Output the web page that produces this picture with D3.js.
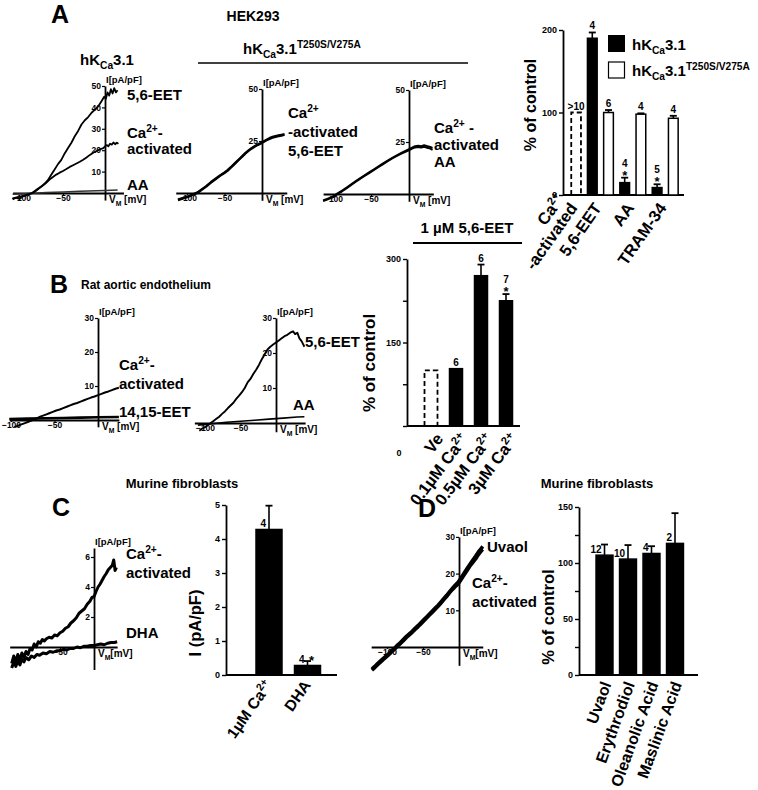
<!DOCTYPE html>
<html>
<head>
<meta charset="utf-8">
<script src="https://cdn.jsdelivr.net/npm/d3@7"></script>
<style>
body{margin:0;background:#fff}
svg text{font-family:"Liberation Sans",Arial,Helvetica,sans-serif;font-weight:bold;fill:#000}
</style>
</head>
<body>
<svg id="fig" width="758" height="790"></svg>
<script>
// ---- I-V traces, [mV, pA/pF] ----
// A, hKCa3.1 wild type
const a1Eet = [[-110,-3],[-106,-2.2],[-102,-2.8],[-98,-1.6],[-94,-1.2],[-90,-0.4],[-87,0],[-84,0.8],[-80,2],[-76,3],[-72,4.3],[-68,6],[-64,8.5],[-60,11],[-56,13.5],[-52,15.5],[-48,18.5],[-44,21],[-40,23.5],[-36,26.5],[-32,29],[-28,32],[-24,34],[-20,35.5],[-16,37.5],[-12,39],[-8,40.5],[-4,43],[-1,45],[1,44],[3,47],[5,45.5],[7,48.5],[9,46.5],[11,49],[13,47],[15,48]];
const a1Ca = [[-110,-2.5],[-105,-2],[-100,-1.6],[-95,-1],[-90,-0.5],[-86,0],[-82,1],[-78,2.3],[-74,3.5],[-70,4.8],[-66,6.3],[-62,7.5],[-58,8.6],[-54,9.5],[-50,10.3],[-46,11.2],[-42,12.2],[-38,13],[-34,13.8],[-30,14.6],[-26,15.5],[-22,16.6],[-18,17.8],[-14,18.8],[-10,19.6],[-6,20.4],[-2,21],[0,21.8],[2,22.4],[4,21.8],[6,23],[8,22.6],[10,23.6],[12,22.8],[14,23.5],[16,23]];
const a1AA = [[-110,-0.6],[-90,-0.2],[-70,0.2],[-50,0.5],[-30,0.8],[-10,1.1],[0,1.2],[15,1.4]];
// A, hKCa3.1 T250S/V275A
const a2Ca = [[-112,-3.5],[-105,-2.6],[-98,-1.8],[-92,-0.8],[-86,0],[-80,1.6],[-74,3.2],[-68,5],[-62,6.6],[-56,8.2],[-50,9.6],[-46,10.6],[-42,12],[-38,13.4],[-34,14.8],[-30,16.2],[-26,17.6],[-22,19],[-18,20.2],[-14,21.3],[-10,22.2],[-6,23],[-2,23.7],[2,24.5],[6,25.3],[10,26],[14,26.6],[18,27],[22,27.3],[26,27.6],[30,28]];
const a2Eet = [[-112,-3.2],[-105,-2.3],[-98,-1.5],[-92,-0.6],[-86,0.3],[-80,1.9],[-74,3.4],[-68,5.3],[-62,6.9],[-56,8.5],[-50,9.9],[-46,11],[-42,12.3],[-38,13.7],[-34,15.1],[-30,16.5],[-26,17.9],[-22,19.3],[-18,20.5],[-14,21.6],[-10,22.5],[-6,23.3],[-2,24],[2,24.8],[6,25.6],[10,26.4],[14,27],[18,27.4],[22,27.7],[26,28],[30,28.3]];
const a3Ca = [[-113,-3.4],[-106,-2.4],[-100,-1.5],[-94,0],[-88,1.3],[-82,2.8],[-76,4.4],[-70,5.9],[-64,7.4],[-58,8.8],[-52,10.2],[-46,11.6],[-40,13],[-34,14.4],[-28,15.8],[-22,17.1],[-16,18.3],[-10,19.4],[-4,20.4],[0,21],[4,21.8],[8,22.4],[12,22.6],[16,22.3],[20,22.7],[24,22.2],[28,21.8],[31,21.2]];
const a3AA = [[-113,-3.1],[-106,-2.1],[-100,-1.2],[-94,0.3],[-88,1.6],[-82,3.1],[-76,4.7],[-70,6.2],[-64,7.7],[-58,9.1],[-52,10.5],[-46,11.9],[-40,13.3],[-34,14.7],[-28,16.1],[-22,17.4],[-16,18.6],[-10,19.8],[-4,20.9],[0,21.6],[4,22.3],[8,23],[12,23.2],[16,23],[20,23.4],[24,23],[28,22.6],[31,22.2]];
// B, rat aortic endothelium
const b1Ca = [[-96,-2.1],[-92,-1.7],[-88,-1.3],[-84,-0.9],[-80,-0.5],[-76,-0.1],[-72,0.3],[-68,0.8],[-64,1.2],[-60,1.6],[-56,2],[-52,2.4],[-48,2.8],[-44,3.1],[-40,3.5],[-36,3.9],[-32,4.3],[-28,4.7],[-24,5],[-20,5.4],[-16,5.8],[-12,6.2],[-8,6.6],[-4,6.9],[0,7.3],[4,7.7],[8,8.1],[12,8.4],[16,8.8],[20,9.2],[24,9.5]];
const b1Eet = [[-102,0.3],[-80,0.4],[-60,0.5],[-40,0.6],[-20,0.7],[0,0.8],[24,0.9]];
const b2Eet = [[-108,-2.2],[-104,-1.6],[-100,-1.2],[-96,-0.6],[-92,0],[-88,0.6],[-84,1.2],[-80,1.8],[-76,2.6],[-72,3.3],[-68,4.2],[-64,5],[-60,5.8],[-56,6.9],[-52,7.8],[-48,8.8],[-44,10],[-40,11.6],[-36,12.6],[-32,14],[-28,15.2],[-24,16.6],[-20,18.2],[-16,19.6],[-12,21],[-8,21.8],[-4,22.4],[0,23],[4,23.6],[8,24.2],[12,24.8],[16,25.2],[20,25.8],[24,26.2],[27,25.4],[30,25.8],[33,24.2],[36,23.4],[38,22.6],[40,21.8]];
const b2AA = [[-110,-0.6],[-90,-0.2],[-70,0.2],[-50,0.5],[-30,0.8],[-10,1.1],[10,1.4],[30,1.7],[40,1.8]];
// C, murine fibroblasts
const cCa = [[-121,-1.1],[-118,-0.6],[-115,-1],[-112,-0.5],[-109,-0.9],[-106,-0.4],[-103,-0.7],[-100,-0.3],[-97,-0.5],[-94,-0.1],[-91,-0.2],[-88,0.2],[-85,0],[-82,0.35],[-79,0.25],[-76,0.5],[-73,0.4],[-70,0.55],[-66,0.65],[-62,0.6],[-58,0.8],[-54,0.75],[-50,0.95],[-46,1.05],[-42,1.25],[-38,1.35],[-34,1.6],[-30,1.75],[-26,1.95],[-22,2.25],[-18,2.4],[-14,2.55],[-10,2.85],[-6,3.05],[-3,3.3],[0,3.35],[3,3.7],[6,4],[9,4.2],[12,4.45],[15,4.7],[18,4.9],[21,5.15],[24,5.3],[27,5.45],[29,5.8],[31,5.1],[33,5.3]];
const cDha = [[-121,-1.4],[-118,-1],[-115,-1.3],[-112,-0.9],[-109,-1.2],[-106,-0.8],[-103,-1],[-100,-0.7],[-96,-0.85],[-92,-0.6],[-88,-0.7],[-84,-0.5],[-80,-0.55],[-75,-0.4],[-70,-0.45],[-65,-0.3],[-60,-0.35],[-55,-0.25],[-50,-0.25],[-45,-0.15],[-40,-0.2],[-35,-0.1],[-30,-0.1],[-25,0],[-20,-0.05],[-15,0.05],[-10,0.05],[-5,0.1],[0,0.1],[5,0.15],[10,0.2],[15,0.15],[20,0.25],[25,0.3],[30,0.3],[34,0.35]];
// D, murine fibroblasts
const dCa = [[-121,-6.3],[-117,-5.6],[-113,-4.8],[-109,-4.1],[-105,-3.4],[-101,-2.7],[-97,-2],[-93,-1.2],[-89,-0.5],[-85,0.3],[-81,1],[-77,1.8],[-73,2.6],[-69,3.3],[-65,4],[-61,4.8],[-57,5.5],[-53,6.3],[-49,7.1],[-45,7.9],[-41,8.7],[-37,9.5],[-33,10.3],[-29,11.1],[-25,12],[-21,12.9],[-17,13.8],[-13,14.8],[-9,15.7],[-5,16.5],[-1,17.2],[3,18.4],[7,19.6],[11,20.8],[15,22],[19,23],[23,24],[27,25.2],[31,26.2],[33,26.6]];
const dUvaol = [[-121,-6],[-117,-5.3],[-113,-4.5],[-109,-3.8],[-105,-3.1],[-101,-2.4],[-97,-1.7],[-93,-0.9],[-89,-0.2],[-85,0.6],[-81,1.3],[-77,2.1],[-73,2.9],[-69,3.6],[-65,4.3],[-61,5.1],[-57,5.8],[-53,6.6],[-49,7.4],[-45,8.2],[-41,9],[-37,9.8],[-33,10.6],[-29,11.4],[-25,12.3],[-21,13.2],[-17,14.1],[-13,15.1],[-9,16],[-5,16.9],[-1,17.7],[3,18.9],[7,20.1],[11,21.3],[15,22.5],[19,23.6],[23,24.7],[27,25.9],[31,26.9],[33,27.4]];

// ---- bar charts ----
const aCats = ["Ca^{2+}|-activated", "5,6-EET", "AA", "TRAM-34"];
const aWt = [100, 190, 15, 9];
const aWtSem = [0, 7, 6, 4];
const aWtN = [">10", "4", "4", "5"];
const aWtStar = [false, false, true, true];
const aMut = [null, 100, 98, 93];
const aMutSem = [null, 3, 1, 3];
const aMutN = [null, "6", "4", "4"];
const aTicks = [0, 100, 200];

const bCats = ["Ve", "0.1µM Ca^{2+}", "0.5µM Ca^{2+}", "3µM Ca^{2+}"];
const bVals = [100, 103, 270, 225];
const bSem = [0, 0, 20, 12];
const bN = ["", "6", "6", "7"];
const bStar = [false, false, false, true];
const bTicks = [0, 75, 150, 225, 300];
const bTickLabels = [150, 300];

const cCats = ["1µM Ca^{2+}", "DHA"];
const cVals = [4.28, 0.28];
const cSem = [0.7, 0.13];
const cN = ["4", "4"];
const cStar = [false, true];
const cTicks = [0, 1, 2, 3, 4, 5];

const dCats = ["Uvaol", "Erythrodiol", "Oleanolic Acid", "Maslinic Acid"];
const dVals = [107, 103.5, 108.5, 117.5];
const dSem = [9.5, 12.5, 6.5, 27];
const dN = ["12", "10", "4", "2"];
const dTicks = [0, 25, 50, 75, 100, 125, 150];
const dTickLabels = [0, 50, 100, 150];

const svg = d3.select("#fig");

// "Ca^{2+}" / "K_{Ca}" markup -> tspans
function parts(s) {
  const out = [], re = /([_^])\{([^}]*)\}/g;
  let last = 0, m;
  while ((m = re.exec(s))) {
    if (m.index > last) out.push([s.slice(last, m.index), ""]);
    out.push([m[2], m[1] == "^" ? "sup" : "sub"]);
    last = re.lastIndex;
  }
  if (last < s.length) out.push([s.slice(last), ""]);
  return out;
}
function rich(t, s, size) {
  let shift = 0;
  parts(s).forEach(([str, k]) => {
    const target = k == "sub" ? size * 0.25 : k == "sup" ? -size * 0.38 : 0;
    t.append("tspan").attr("dy", target - shift).attr("font-size", k ? size * 0.68 : size).text(str);
    shift = target;
  });
  return t;
}
function label(x, y, s, size, anchor) {
  const t = svg.append("text").attr("x", x).attr("y", y).attr("font-size", size).attr("text-anchor", anchor || "start");
  return rich(t, s, size);
}

function ivPlot(p) {
  const x = d3.scaleLinear().domain(p.v).range([p.ox + p.kx * p.v[0], p.ox + p.kx * p.v[1]]);
  const y = d3.scaleLinear().domain(p.i).range([p.oy - p.ky * p.i[0], p.oy - p.ky * p.i[1]]);
  const g = svg.append("g");
  const xa = g.append("g").attr("transform", `translate(0,${y(0)})`)
    .call(d3.axisBottom(x).tickValues(p.vTicks).tickSize(2).tickSizeOuter(0).tickPadding(0));
  const ya = g.append("g").attr("transform", `translate(${x(0)},0)`)
    .call(d3.axisLeft(y).tickValues(p.iTicks).tickSize(3).tickSizeOuter(0).tickPadding(1));
  [xa, ya].forEach(a => {
    a.attr("font-family", null).attr("font-size", 8.5);
    a.select(".domain").attr("stroke-width", 1.8);
    a.selectAll(".tick line").attr("stroke-width", 1.2);
  });
  const line = d3.line().x(d => x(d[0])).y(d => y(d[1]));
  p.traces.forEach(tr => {
    g.append("path").datum(tr.data).attr("d", line).attr("fill", "none")
      .attr("stroke", tr.color || "#000").attr("stroke-width", tr.w).attr("stroke-linejoin", "round");
  });
  g.append("text").attr("x", x(0) + 1).attr("y", y(p.i[1]) - 3).attr("font-size", 9.5).text("I[pA/pF]");
  rich(g.append("text").attr("x", x(0) + 4).attr("y", y(0) + 10).attr("font-size", 10), p.vLabel, 10);
}

function barPlot(p) {
  const x = d3.scaleBand().domain(p.slots).range(p.xRange).paddingInner(p.pad).paddingOuter(p.pad / 2);
  const y = d3.scaleLinear().domain(p.yDomain).range(p.yRange);
  const g = svg.append("g");
  const w = x.bandwidth();
  const ya = g.append("g").attr("transform", `translate(${p.axisX[0]},0)`)
    .call(d3.axisLeft(y).tickValues(p.ticks).tickFormat(d => p.tickLabels.includes(d) ? d : "")
      .tickSize(4).tickSizeOuter(0).tickPadding(2));
  ya.attr("font-family", null).attr("font-size", 9);
  ya.select(".domain").attr("stroke-width", 1.8);
  ya.selectAll(".tick line").attr("stroke-width", 1.4);
  g.append("line").attr("x1", p.axisX[0]).attr("x2", p.axisX[1]).attr("y1", y(0)).attr("y2", y(0))
    .attr("stroke", "#000").attr("stroke-width", 1.8);

  p.bars.forEach(b => {
    const x0 = x(b.slot), cx = x0 + w / 2;
    if (b.fill == "dashed") {
      g.append("path").attr("d", `M${x0},${y(0)}V${y(b.v)}H${x0 + w}V${y(0)}`)
        .attr("fill", "none").attr("stroke", "#000").attr("stroke-width", 1.8).attr("stroke-dasharray", "5,3");
    } else {
      g.append("rect").attr("x", x0).attr("y", y(b.v)).attr("width", w).attr("height", y(0) - y(b.v))
        .attr("fill", b.fill).attr("stroke", "#000").attr("stroke-width", 1.5);
    }
    const top = y(b.v + (b.sem || 0));
    if (b.sem) {
      g.append("line").attr("x1", cx).attr("x2", cx).attr("y1", y(b.v)).attr("y2", top).attr("stroke", "#000").attr("stroke-width", 1.6);
      g.append("line").attr("x1", cx - 3.5).attr("x2", cx + 3.5).attr("y1", top).attr("y2", top).attr("stroke", "#000").attr("stroke-width", 1.8);
    }
    if (!b.n) return;
    if (p.nMode == "above") {
      if (b.star) {
        g.append("text").attr("x", cx).attr("y", top + 2).attr("text-anchor", "middle").attr("font-size", 13).text("*");
        g.append("text").attr("x", cx).attr("y", top - 11).attr("text-anchor", "middle").attr("font-size", p.nSize).text(b.n);
      } else {
        g.append("text").attr("x", cx).attr("y", top - 3).attr("text-anchor", "middle").attr("font-size", p.nSize).text(b.n);
      }
    } else {
      g.append("text").attr("x", cx - 3).attr("y", y(b.v) - 2).attr("text-anchor", "end").attr("font-size", p.nSize).text(b.n);
      if (b.star) g.append("text").attr("x", cx + 1.5).attr("y", top + 4).attr("font-size", 13).text("*");
    }
  });

  g.append("text").attr("transform", `translate(${p.yTitle[0]},${p.yTitle[1]}) rotate(-90)`)
    .attr("text-anchor", "middle").attr("font-size", p.yTitle[2]).text(p.yTitle[3]);

  // rotated category labels; for two-line labels the last line sits on the anchor
  p.cats.forEach((c, i) => {
    const slots = p.catSlots[i];
    const cx = d3.mean(slots, s => x(s) + w / 2);
    const lines = c.split("|");
    const lg = g.append("g")
      .attr("transform", `translate(${cx + p.xlab.dx},${y(0) + p.xlab.dy}) rotate(${p.xlab.rot})`);
    lines.forEach((ln, j) => {
      const t = lg.append("text").attr("x", 0).attr("y", (j - (lines.length - 1)) * p.xlab.lh)
        .attr("text-anchor", "end").attr("font-size", p.xlab.size);
      rich(t, ln, p.xlab.size);
    });
  });
  return { x, y };
}

// ---------------- panel A ----------------
label(51, 23, "A", 25);
label(253, 21, "HEK293", 14, "middle");
label(107, 65, "hK_{Ca}3.1", 15, "middle");
label(243, 54, "hK_{Ca}3.1^{T250S/V275A}", 15);
svg.append("line").attr("x1", 198).attr("x2", 468).attr("y1", 63).attr("y2", 63).attr("stroke", "#000").attr("stroke-width", 1.5);

ivPlot({ ox: 105, oy: 193, kx: 0.84, ky: 2.14, v: [-110, 22], i: [-3.3, 50],
  vTicks: [-100, -50], iTicks: [10, 20, 30, 40, 50], vLabel: "V_{M} [mV]",
  traces: [{ data: a1AA, w: 1.5, color: "#333" }, { data: a1Ca, w: 1.8 }, { data: a1Eet, w: 1.8 }] });
label(127, 100, "5,6-EET", 15);
label(127, 138, "Ca^{2+}-", 15);
label(127, 154, "activated", 15);
label(127, 190, "AA", 15);

ivPlot({ ox: 262, oy: 193, kx: 0.75, ky: 2.08, v: [-115, 33], i: [-3.5, 50],
  vTicks: [-100, -50], iTicks: [25, 50], vLabel: "V_{M} [mV]",
  traces: [{ data: a2Ca, w: 2.2 }, { data: a2Eet, w: 2.2 }] });
label(288, 118, "Ca^{2+}", 15);
label(288, 137, "-activated", 15);
label(288, 156, "5,6-EET", 15);

ivPlot({ ox: 409, oy: 194, kx: 0.76, ky: 2.08, v: [-113, 32], i: [-3.5, 50],
  vTicks: [-100, -50], iTicks: [25, 50], vLabel: "V_{M} [mV]",
  traces: [{ data: a3Ca, w: 2 }, { data: a3AA, w: 2 }] });
label(434, 133, "Ca^{2+} -", 15);
label(434, 150, "activated", 15);
label(434, 167, "AA", 15);

const aSlots = [], aCatSlots = [], aBars = [];
aCats.forEach((c, i) => {
  if (aMut[i] == null) {
    aSlots.push("c" + i); aCatSlots.push(["c" + i]);
    aBars.push({ slot: "c" + i, v: aWt[i], sem: aWtSem[i], n: aWtN[i], fill: "dashed" });
  } else {
    aSlots.push("w" + i, "m" + i); aCatSlots.push(["w" + i, "m" + i]);
    aBars.push({ slot: "w" + i, v: aWt[i], sem: aWtSem[i], n: aWtN[i], star: aWtStar[i], fill: "#000" });
    aBars.push({ slot: "m" + i, v: aMut[i], sem: aMutSem[i], n: aMutN[i], fill: "#fff" });
  }
});
barPlot({ slots: aSlots, xRange: [568, 681.4], pad: 0.4, yDomain: [0, 200], yRange: [195, 30],
  ticks: aTicks, tickLabels: aTicks, axisX: [563, 684], bars: aBars, nMode: "above", nSize: 10,
  yTitle: [536, 105, 16, "% of control"], cats: aCats, catSlots: aCatSlots,
  xlab: { dx: 2, dy: 13, rot: -55, size: 16.5, lh: 16 } });
svg.append("rect").attr("x", 608).attr("y", 35).attr("width", 17).attr("height", 17).attr("fill", "#000");
svg.append("rect").attr("x", 608.5).attr("y", 62).attr("width", 16).attr("height", 16).attr("fill", "#fff").attr("stroke", "#000").attr("stroke-width", 1.2);
label(632, 50, "hK_{Ca}3.1", 15);
label(632, 76, "hK_{Ca}3.1^{T250S/V275A}", 15);

// ---------------- panel B ----------------
label(50, 293, "B", 25);
label(146, 289, "Rat aortic endothelium", 12, "middle");
ivPlot({ ox: 98, oy: 420, kx: 0.87, ky: 3.4, v: [-102, 24], i: [-2, 30],
  vTicks: [-100, -50], iTicks: [10, 20, 30], vLabel: "V_{M} [mV]",
  traces: [{ data: b1Eet, w: 2.6 }, { data: b1Ca, w: 2 }] });
label(119, 370, "Ca^{2+}-", 15);
label(119, 389, "activated", 15);
label(119, 417, "14,15-EET", 15);

ivPlot({ ox: 276, oy: 423, kx: 0.71, ky: 3.5, v: [-115, 41], i: [-2.5, 30],
  vTicks: [-100, -50], iTicks: [10, 20, 30], vLabel: "V_{M} [mV]",
  traces: [{ data: b2AA, w: 1.6 }, { data: b2Eet, w: 1.9 }] });
label(305, 347, "5,6-EET", 15);
label(293, 410, "AA", 15);

barPlot({ slots: bCats, xRange: [418.5, 518.5], pad: 0.48, yDomain: [0, 300], yRange: [426, 259],
  ticks: bTicks, tickLabels: bTickLabels, axisX: [407, 520],
  bars: bCats.map((c, i) => ({ slot: c, v: bVals[i], sem: bSem[i], n: bN[i], star: bStar[i], fill: i == 0 ? "dashed" : "#000" })),
  nMode: "above", nSize: 10, yTitle: [375, 363, 17, "% of control"], cats: bCats, catSlots: bCats.map(c => [c]),
  xlab: { dx: 13, dy: 13, rot: -53, size: 16.5, lh: 15 } });
label(399, 456, "0", 9, "middle");
label(467, 233, "1 µM 5,6-EET", 15, "middle");
svg.append("line").attr("x1", 413).attr("x2", 522).attr("y1", 243).attr("y2", 243).attr("stroke", "#000").attr("stroke-width", 2);

// ---------------- panel C ----------------
label(52, 516, "C", 25);
label(182, 488, "Murine fibroblasts", 13, "middle");
ivPlot({ ox: 94, oy: 647, kx: 0.68, ky: 15, v: [-124, 34], i: [-1.5, 6.6],
  vTicks: [-50], iTicks: [2, 4, 6], vLabel: "V_{M}[mV]",
  traces: [{ data: cDha, w: 3 }, { data: cCa, w: 3 }] });
label(126, 559, "Ca^{2+}-", 15);
label(126, 578, "activated", 15);
label(126, 638, "DHA", 15);

barPlot({ slots: cCats, xRange: [249.75, 326.75], pad: 0.325, yDomain: [0, 5], yRange: [675, 505],
  ticks: cTicks, tickLabels: cTicks, axisX: [226, 337],
  bars: cCats.map((c, i) => ({ slot: c, v: cVals[i], sem: cSem[i], n: cN[i], star: cStar[i], fill: "#000" })),
  nMode: "left", nSize: 10, yTitle: [201, 623, 16.5, "I (pA/pF)"], cats: cCats, catSlots: cCats.map(c => [c]),
  xlab: { dx: 4, dy: 10, rot: -55, size: 15.5, lh: 15 } });

// ---------------- panel D ----------------
label(418, 517, "D", 25);
label(597, 488, "Murine fibroblasts", 13, "middle");
ivPlot({ ox: 459, oy: 647, kx: 0.72, ky: 3.67, v: [-122, 33], i: [-5, 30],
  vTicks: [-100, -50], iTicks: [10, 20, 30], vLabel: "V_{M}[mV]",
  traces: [{ data: dCa, w: 3.6 }, { data: dUvaol, w: 3.6 }] });
label(487, 552, "Uvaol", 15);
label(472, 588, "Ca^{2+}-", 15);
label(472, 607, "activated", 15);

barPlot({ slots: dCats, xRange: [592.75, 686.75], pad: 0.28, yDomain: [0, 150], yRange: [675, 507],
  ticks: dTicks, tickLabels: dTickLabels, axisX: [579, 698],
  bars: dCats.map((c, i) => ({ slot: c, v: dVals[i], sem: dSem[i], n: dN[i], fill: "#000" })),
  nMode: "left", nSize: 10, yTitle: [554, 617, 16.5, "% of control"], cats: dCats, catSlots: dCats.map(c => [c]),
  xlab: { dx: 7, dy: 9, rot: -70, size: 16, lh: 15 } });
</script>
</body>
</html>
